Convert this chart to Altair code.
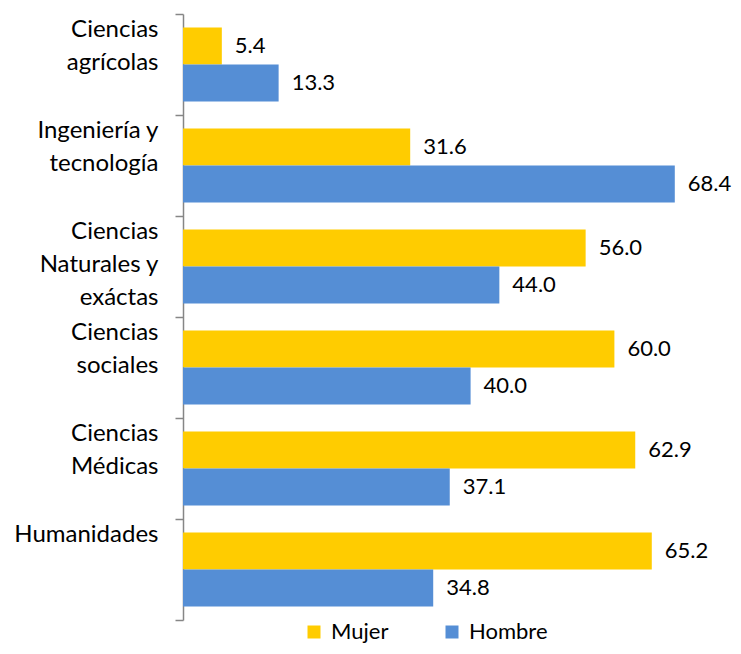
import altair as alt
import pandas as pd

categories = ["Ciencias|agrícolas", "Ingeniería y|tecnología", "Ciencias|Naturales y|exáctas",
              "Ciencias|sociales", "Ciencias|Médicas", "Humanidades"]
series = ["Mujer", "Hombre"]
mujer = [5.4, 31.6, 56.0, 60.0, 62.9, 65.2]
hombre = [13.3, 68.4, 44.0, 40.0, 37.1, 34.8]
colors = ["#FFCC00", "#558ED5"]

rows = []
for c, m, h in zip(categories, mujer, hombre):
    rows.append({"cat": c, "sexo": "Mujer", "val": m})
    rows.append({"cat": c, "sexo": "Hombre", "val": h})
df = pd.DataFrame(rows)

FONT = "Lato"
FS = 24

y_enc = alt.Y("cat:N", sort=categories, title=None,
              scale=alt.Scale(paddingInner=0, paddingOuter=0),
              axis=alt.Axis(labelExpr="split(datum.label, '|')", labelBaseline="top",
                            labelOffset=-47, labelLineHeight=33, labelFontSize=FS,
                            labelFont=FONT, labelColor="#000000", labelAlign="right",
                            labelPadding=17, tickSize=8, tickBand="extent",
                            tickColor="#868686", domainColor="#868686", tickWidth=1.5,
                            domainWidth=1.5, grid=False, labelLimit=300))
yoff = alt.YOffset("sexo:N", sort=series,
                   scale=alt.Scale(paddingInner=0, paddingOuter=0.365))
x_enc = alt.X("val:Q", axis=None, scale=alt.Scale(domain=[0, 75.8], nice=False, zero=True))

bars = alt.Chart(df).mark_bar(size=37).encode(
    x=x_enc, y=y_enc, yOffset=yoff,
    color=alt.Color("sexo:N", sort=series,
                    scale=alt.Scale(domain=series, range=colors),
                    legend=alt.Legend(title=None, orient="none", direction="horizontal",
                                      legendX=120, legendY=607, symbolType="square",
                                      symbolSize=169, symbolStrokeWidth=0,
                                      labelFontSize=22, labelFont=FONT, labelColor="#000000",
                                      columnPadding=52, padding=0, labelOffset=6)),
)
labels = alt.Chart(df).mark_text(align="left", baseline="middle", dx=13,
                                 fontSize=22, font=FONT, color="#000000").encode(
    x=x_enc, y=y_enc, yOffset=yoff, text=alt.Text("val:Q", format=".1f"))

chart = (bars + labels).properties(
    width=545, height=606,
    autosize=alt.AutoSizeParams(type="none"),
    padding={"left": 175, "top": 6, "right": 5, "bottom": 26},
).configure_view(stroke=None)

chart.save("out.html", embed_options={"renderer": "svg", "actions": False})
